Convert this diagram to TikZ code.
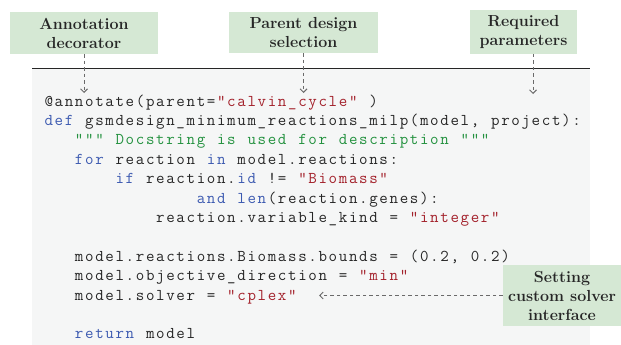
\documentclass[tikz,border=0pt]{standalone}
\usepackage{fontspec}
\usetikzlibrary{arrows.meta}
\definecolor{boxgreen}{HTML}{D5E8D4}
\definecolor{panel}{HTML}{F5F6F6}
\definecolor{kw}{HTML}{3B59B0}
\definecolor{strc}{HTML}{A3212B}
\definecolor{docc}{HTML}{22913E}
\definecolor{txt}{HTML}{262626}
\definecolor{arrc}{HTML}{6A6A6A}
\newlength\cw
\setlength\cw{10.15pt}
\ExplSyntaxOn
\NewDocumentCommand\monostr{m}{\str_map_inline:nn {#1} {\makebox[\cw][c]{##1}}}
\ExplSyntaxOff
\newcommand\T[1]{{\color{txt}\monostr{#1}}}
\newcommand\K[1]{{\color{kw}\monostr{#1}}}
\newcommand\Q[1]{{\color{strc}\monostr{#1}}}
\newcommand\D[1]{{\color{docc}\monostr{#1}}}
\newcommand\SP{\hspace*{\cw}}
\begin{document}
\begin{tikzpicture}[x=1pt,y=-1pt,
  note/.style={fill=boxgreen,draw=none,align=center,text=txt,inner sep=0pt,
    font=\bfseries\fontsize{16}{19}\selectfont},
  codeline/.style={anchor=base west,inner sep=0pt,font=\ttfamily\fontsize{16.5}{19}\selectfont},
  arr/.style={draw=arrc,line width=1pt,dash pattern=on 3.5pt off 3pt,
    -{Straight Barb[length=3.5pt,width=7pt]}}]
\useasboundingbox (0,0) rectangle (621,345);
\fill[panel] (32,69) rectangle (590,345);
\draw[line width=1pt,black!85] (32,69) -- (590,69);

\node[note,minimum width=148pt,minimum height=42pt] (b1) at (84,33) {Annotation\\decorator};
\node[note,minimum width=149pt,minimum height=41pt] (b2) at (303.5,32.5) {Parent design\\selection};
\node[note,minimum width=107pt,minimum height=44pt] (b3) at (523.5,32) {Required\\parameters};
\node[note,minimum width=118pt,minimum height=61pt] (b4) at (562,295.5) {Setting\\custom solver\\interface};

\def\cx#1{43.5+#1*10.15}
\def\ly#1{106+(#1-1)*19.4}
\node[codeline] (l1) at ({\cx{0}},{\ly{1}}) {\T{@annotate(parent=}\Q{"calvin_cycle"}\SP\T{)}};
\node[codeline] (l2) at ({\cx{0}},{\ly{2}}) {\K{def}\SP\T{gsmdesign_minimum_reactions_milp(model,}\SP\T{project):}};
\node[codeline] (l3) at ({\cx{3}},{\ly{3}}) {\D{""" Docstring is used for description """}};
\node[codeline] (l4) at ({\cx{3}},{\ly{4}}) {\K{for}\SP\T{reaction}\SP\K{in}\SP\T{model.reactions:}};
\node[codeline] (l5) at ({\cx{7}},{\ly{5}}) {\K{if}\SP\T{reaction.}\K{id}\SP\T{!=}\SP\Q{"Biomass"}};
\node[codeline] (l6) at ({\cx{15}},{\ly{6}}) {\K{and}\SP\K{len}\T{(reaction.genes):}};
\node[codeline] (l7) at ({\cx{11}},{\ly{7}}) {\T{reaction.variable_kind}\SP\T{=}\SP\Q{"integer"}};
\node[codeline] (l9) at ({\cx{3}},{\ly{9}}) {\T{model.reactions.Biomass.bounds = (0.2, 0.2)}};
\node[codeline] (l10) at ({\cx{3}},{\ly{10}}) {\T{model.objective_direction}\SP\T{=}\SP\Q{"min"}};
\node[codeline] (l11) at ({\cx{3}},{\ly{11}}) {\T{model.solver}\SP\T{=}\SP\Q{"cplex"}};
\node[codeline] (l13) at ({\cx{3}},{\ly{13}}) {\K{return}\SP\T{model}};

\coordinate (t1) at (84,93);
\coordinate (t2) at (303.5,93);
\coordinate (t3) at (533,94);
\coordinate (s3) at (533,54);
\coordinate (t4) at (319,295.5);
\draw[arr] (b1) -- (t1);
\draw[arr] (b2) -- (t2);
\draw[arr] (s3) -- (t3);
\draw[arr] (b4) -- (t4);
\end{tikzpicture}
\end{document}
